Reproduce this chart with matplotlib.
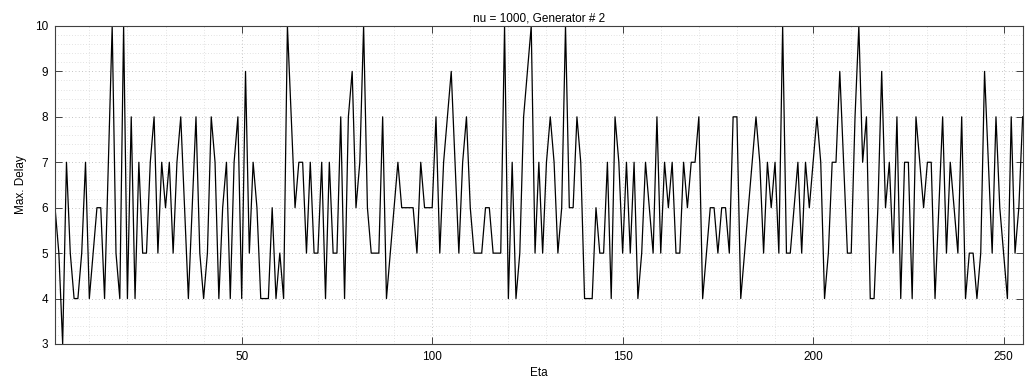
import matplotlib

matplotlib.use("Agg")
import matplotlib.pyplot as plt
from matplotlib.ticker import MultipleLocator

plt.rcParams["font.family"] = ["Liberation Sans", "DejaVu Sans"]

TITLE = "nu = 1000, Generator # 2"
X_LABEL = "Eta"
Y_LABEL = "Max. Delay"

# max delay per eta, eta = 1..255
max_delay = [
    6, 5, 3, 7, 5, 4, 4, 5, 7, 4,
    5, 6, 6, 4, 7, 10, 5, 4, 10, 4,
    8, 4, 7, 5, 5, 7, 8, 5, 7, 6,
    7, 5, 7, 8, 6, 4, 6, 8, 5, 4,
    5, 8, 7, 4, 6, 7, 4, 7, 8, 4,
    9, 5, 7, 6, 4, 4, 4, 6, 4, 5,
    4, 10, 8, 6, 7, 7, 5, 7, 5, 5,
    7, 4, 7, 5, 5, 8, 4, 8, 9, 6,
    7, 10, 6, 5, 5, 5, 8, 4, 5, 6,
    7, 6, 6, 6, 6, 5, 7, 6, 6, 6,
    8, 5, 7, 8, 9, 7, 5, 7, 8, 6,
    5, 5, 5, 6, 6, 5, 5, 5, 10, 4,
    7, 4, 5, 8, 9, 10, 5, 7, 5, 7,
    8, 7, 5, 6, 10, 6, 6, 8, 7, 4,
    4, 4, 6, 5, 5, 7, 4, 8, 7, 5,
    7, 5, 7, 4, 5, 7, 6, 5, 8, 5,
    7, 6, 7, 5, 5, 7, 6, 7, 7, 8,
    4, 5, 6, 6, 5, 6, 6, 5, 8, 8,
    4, 5, 6, 7, 8, 7, 5, 7, 6, 7,
    5, 10, 5, 5, 6, 7, 5, 7, 6, 7,
    8, 7, 4, 5, 7, 7, 9, 7, 5, 5,
    8, 10, 7, 8, 4, 4, 6, 9, 6, 7,
    5, 8, 4, 7, 7, 4, 8, 7, 6, 7,
    7, 4, 6, 8, 5, 7, 6, 5, 8, 4,
    5, 5, 4, 5, 9, 7, 5, 8, 6, 5,
    4, 8, 5, 6, 8,
]
eta = list(range(1, len(max_delay) + 1))

fig = plt.figure(figsize=(10.25, 3.82), dpi=100)
ax = fig.add_axes([0.0537, 0.0995, 0.944, 0.8325])

ax.plot(eta, max_delay, color="black", linewidth=0.9)

ax.set_xlim(1, 255)
ax.set_ylim(3, 10)
ax.xaxis.set_major_locator(MultipleLocator(50))
ax.xaxis.set_minor_locator(MultipleLocator(10))
ax.yaxis.set_major_locator(MultipleLocator(1))
ax.yaxis.set_minor_locator(MultipleLocator(0.2))

ax.grid(which="major", color="#b0b0b0", linestyle=(0, (1, 3)), linewidth=0.6)
ax.grid(which="minor", color="#c8c8c8", linestyle=(0, (1, 3)), linewidth=0.5)
ax.set_axisbelow(True)

ax.tick_params(which="major", direction="in", top=True, right=True, length=5,
               width=0.7, color="#404040", labelsize=8.5, pad=5)
ax.tick_params(which="minor", length=0)
for spine in ax.spines.values():
    spine.set_color("#404040")
    spine.set_linewidth(0.8)

ax.set_title(TITLE, fontsize=8.5, pad=3)
ax.set_xlabel(X_LABEL, fontsize=8.5, labelpad=3)
ax.set_ylabel(Y_LABEL, fontsize=8.5, labelpad=6)

fig.savefig("out.png", dpi=100)
plt.close(fig)
